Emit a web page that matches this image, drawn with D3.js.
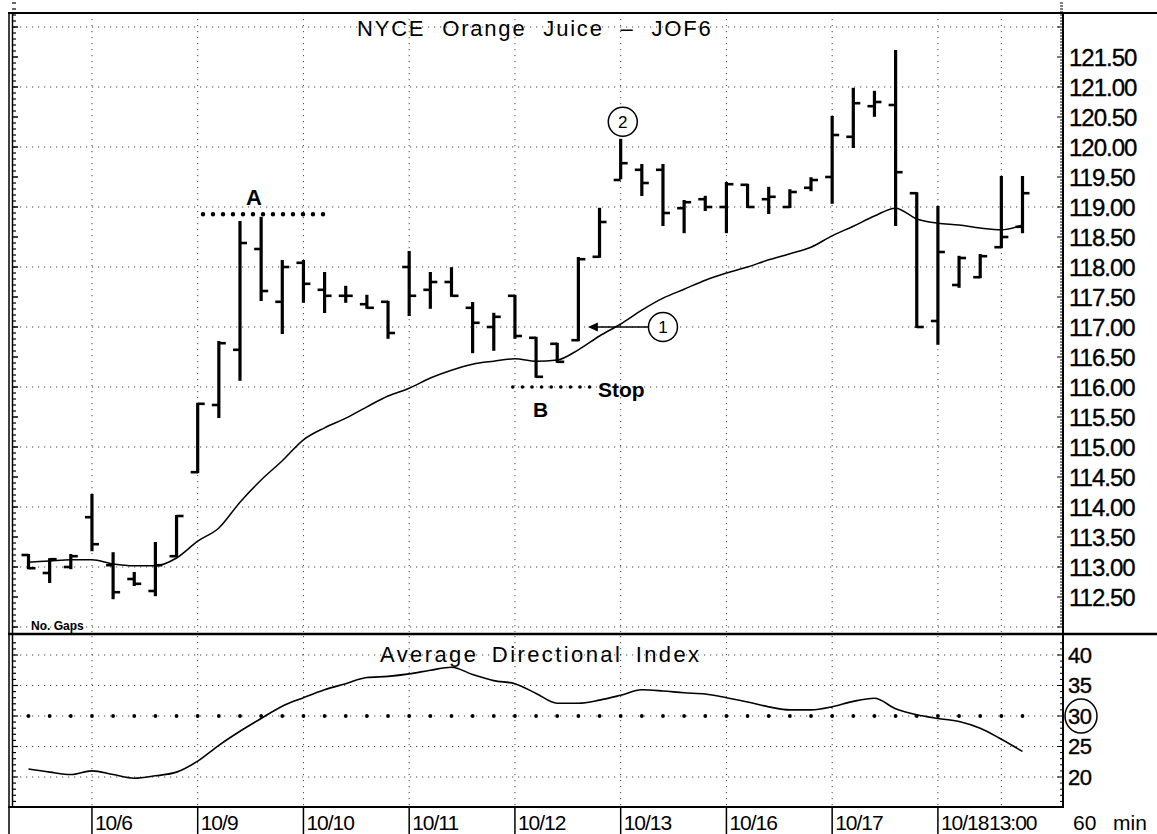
<!DOCTYPE html>
<html>
<head>
<meta charset="utf-8">
<script src="https://cdn.jsdelivr.net/npm/d3@7"></script>
<style>
  body { margin: 0; background: #fff; }
  svg { display: block; font-family: "Liberation Sans", Arial, sans-serif; }
</style>
</head>
<body>
<div id="chart"></div>
<script>
// 60 min bars, last 3 bars of 10/5 then 5 bars a session up to 10/18 13:00
var opens = [113.2, 112.9, 113.0, 113.83, 113.03, 112.8, 112.6, 113.18, 114.58, 115.7,
    116.62, 118.3, 117.42, 118.07, 117.62, 117.52, 117.38, 117.42, 118.0, 117.62,
    117.75, 117.32, 117.0, 117.52, 116.82, 116.72, 116.78, 118.17, 119.45, 119.62,
    119.62, 118.98, 119.13, 119.0, 119.37, 119.13, 119.0, 119.32, 119.5, 120.17,
    120.68, 120.7, 119.23, 117.1, 117.7, 117.83, 118.33, 118.67]
var highs = [113.2, 113.13, 113.2, 114.2, 113.23, 112.9, 113.4, 113.85, 115.72, 116.75,
    118.75, 118.82, 118.1, 118.1, 117.9, 117.67, 117.52, 117.42, 118.25, 117.9,
    117.98, 117.4, 117.22, 117.52, 116.82, 116.72, 118.15, 118.97, 120.12, 119.7,
    119.7, 119.1, 119.17, 119.4, 119.37, 119.32, 119.28, 119.48, 120.5, 120.97,
    120.92, 121.6, 119.23, 119.0, 118.17, 118.2, 119.5, 119.5]
var lows = [112.98, 112.75, 112.98, 113.28, 112.48, 112.7, 112.53, 113.18, 114.58, 115.5,
    116.12, 117.45, 116.9, 117.42, 117.25, 117.42, 117.32, 116.82, 117.2, 117.32,
    117.52, 116.58, 116.62, 116.82, 116.17, 116.42, 116.78, 118.17, 119.48, 119.2,
    118.7, 118.58, 118.95, 118.58, 119.0, 118.9, 119.0, 119.28, 119.07, 120.0,
    120.52, 118.7, 117.0, 116.72, 117.67, 117.83, 118.33, 118.58]
var closes = [112.98, 113.13, 113.18, 113.38, 112.58, 112.72, 113.03, 113.85, 115.72, 116.73,
    118.4, 117.6, 118.0, 117.72, 117.52, 117.52, 117.32, 116.9, 117.52, 117.75,
    117.52, 117.07, 117.17, 116.85, 116.17, 116.42, 118.13, 118.75, 119.73, 119.4,
    118.9, 119.08, 119.0, 119.38, 119.0, 119.17, 119.25, 119.45, 120.2, 120.73,
    120.75, 119.58, 117.0, 118.25, 118.15, 118.18, 118.5, 119.23]

// moving average drawn through the bars
var avgLine = [113.08, 113.1, 113.12, 113.12, 113.05, 113.02, 113.02, 113.15, 113.43, 113.65,
    114.08, 114.45, 114.77, 115.12, 115.32, 115.48, 115.67, 115.85, 115.98, 116.15,
    116.28, 116.38, 116.43, 116.47, 116.43, 116.45, 116.62, 116.85, 117.05, 117.28,
    117.48, 117.63, 117.78, 117.9, 118.0, 118.12, 118.22, 118.33, 118.52, 118.68,
    118.85, 118.98, 118.8, 118.73, 118.7, 118.65, 118.62, 118.7]

// Average Directional Index
var adx = [21.3, 20.8, 20.4, 21.0, 20.4, 19.8, 20.2, 20.8, 22.6, 25.2,
    27.5, 29.6, 31.6, 33.0, 34.3, 35.3, 36.3, 36.5, 36.9, 37.5,
    38.0, 36.8, 35.8, 35.3, 33.7, 32.1, 32.1, 32.6, 33.4, 34.3,
    34.1, 33.8, 33.6, 33.0, 32.3, 31.5, 31.0, 31.0, 31.5, 32.4,
    32.9, 31.2, 30.2, 29.6, 29.1, 28.0, 26.2, 24.2]

var dayLabels = ["10/6", "10/9", "10/10", "10/11", "10/12", "10/13", "10/16", "10/17", "10/18"]
var priceTicks = ["112.50", "113.00", "113.50", "114.00", "114.50", "115.00", "115.50", "116.00",
    "116.50", "117.00", "117.50", "118.00", "118.50", "119.00", "119.50", "120.00", "120.50",
    "121.00", "121.50"]
var adxTicks = [20, 25, 30, 35, 40]

var width = 1157
var height = 834
var barsPerDay = 5
var firstDayBar = 3

var svg = d3.select("#chart")
    .append("svg")
    .attr("width", width)
    .attr("height", height)

var x = d3.scaleLinear().domain([0, closes.length - 1]).range([28.5, 1022.5])
var y = d3.scaleLinear().domain([112, 122]).range([627, 27])
var yAdx = d3.scaleLinear().domain([20, 40]).range([777, 655])

var left = 12, right = 1063
var topPanel = [13, 632]
var lowPanel = [636, 807]

// bar index of each day start, plus the 13:00 bar on 10/18
var gridBars = dayLabels.map(function (d, i) { return firstDayBar + i * barsPerDay })
gridBars.push(gridBars[gridBars.length - 1] + 3)

// grid
var grid = svg.append("g")
    .attr("stroke", "#444")
    .attr("stroke-width", 1)
    .attr("stroke-dasharray", "1.2,4.8")

grid.selectAll(".hTop")
    .data(d3.range(112, 123))
    .enter().append("line")
    .attr("x1", left + 2).attr("x2", right)
    .attr("y1", function (d) { return y(d) }).attr("y2", function (d) { return y(d) })

grid.selectAll(".hLow")
    .data([20, 25, 30, 35, 40])
    .enter().append("line")
    .attr("x1", left + 2).attr("x2", right)
    .attr("y1", function (d) { return yAdx(d) }).attr("y2", function (d) { return yAdx(d) })

gridBars.forEach(function (b) {
    grid.append("line")
        .attr("x1", x(b)).attr("x2", x(b))
        .attr("y1", topPanel[0]).attr("y2", topPanel[1])
    grid.append("line")
        .attr("x1", x(b)).attr("x2", x(b))
        .attr("y1", lowPanel[0]).attr("y2", lowPanel[1])
})

// heavy dots on the 30 line
svg.append("g").selectAll("circle")
    .data(d3.range(closes.length))
    .enter().append("circle")
    .attr("cx", function (i) { return x(i) })
    .attr("cy", yAdx(30))
    .attr("r", 1.9)
    .attr("fill", "#000")

// frame
var frame = svg.append("g").attr("stroke", "#000").attr("fill", "none")
frame.append("line").attr("x1", 8).attr("x2", width).attr("y1", 13).attr("y2", 13).attr("stroke-width", 2)
frame.append("line").attr("x1", 8).attr("x2", width).attr("y1", 634).attr("y2", 634).attr("stroke-width", 2.5)
frame.append("line").attr("x1", 8).attr("x2", right).attr("y1", 807).attr("y2", 807).attr("stroke-width", 2)
frame.append("line").attr("x1", 9).attr("x2", 9).attr("y1", 12).attr("y2", height).attr("stroke-width", 1.5)
frame.append("line").attr("x1", 12.5).attr("x2", 12.5).attr("y1", 13).attr("y2", 807).attr("stroke-width", 1.5)
frame.append("line").attr("x1", right).attr("x2", right).attr("y1", 12).attr("y2", 808).attr("stroke-width", 2)

// axis ticks, dense like the original
var ticks = svg.append("g").attr("stroke", "#000").attr("stroke-width", 1)
d3.range(112, 122.4, 0.05).forEach(function (v) {
    var major = Math.abs(v * 2 - Math.round(v * 2)) < 0.001
    ticks.append("line").attr("x1", right - (major ? 6 : 3)).attr("x2", right)
        .attr("y1", y(v)).attr("y2", y(v))
})
d3.range(112, 122.4, 0.1).forEach(function (v) {
    var major = Math.abs(v * 2 - Math.round(v * 2)) < 0.001
    ticks.append("line").attr("x1", left).attr("x2", left + (major ? 6 : 4))
        .attr("y1", y(v)).attr("y2", y(v)).attr("stroke-width", major ? 1.5 : 1.2)
})
d3.range(16, 43, 1).forEach(function (v) {
    var major = v % 5 === 0
    ticks.append("line").attr("x1", right - (major ? 6 : 3)).attr("x2", right)
        .attr("y1", yAdx(v)).attr("y2", yAdx(v))
    ticks.append("line").attr("x1", left).attr("x2", left + (major ? 6 : 4))
        .attr("y1", yAdx(v)).attr("y2", yAdx(v)).attr("stroke-width", 1.2)
})

// price labels
svg.append("g").selectAll("text")
    .data(priceTicks)
    .enter().append("text")
    .attr("x", 1069)
    .attr("y", function (d) { return y(+d) + 8.6 })
    .attr("font-size", 24)
    .attr("letter-spacing", -1)
    .attr("stroke", "#000").attr("stroke-width", 0.35)
    .text(function (d) { return d })

// adx labels
svg.append("g").selectAll("text")
    .data(adxTicks)
    .enter().append("text")
    .attr("x", 1068)
    .attr("y", function (d) { return yAdx(d) + 7.5 })
    .attr("font-size", 22)
    .attr("letter-spacing", -0.5)
    .attr("stroke", "#000").attr("stroke-width", 0.35)
    .text(function (d) { return d })

svg.append("ellipse")
    .attr("cx", 1081).attr("cy", yAdx(30))
    .attr("rx", 16).attr("ry", 17)
    .attr("fill", "none").attr("stroke", "#000").attr("stroke-width", 1.5)

// date labels under the lower panel
var dates = svg.append("g")
dayLabels.forEach(function (d, i) {
    var bx = x(firstDayBar + i * barsPerDay)
    dates.append("line")
        .attr("x1", bx).attr("x2", bx).attr("y1", 807).attr("y2", height)
        .attr("stroke", "#000").attr("stroke-width", 1.5)
    dates.append("text")
        .attr("x", bx + 3).attr("y", 830)
        .attr("font-size", 21).attr("letter-spacing", -1)
        .text(d)
})
dates.append("text").attr("x", 989).attr("y", 830).attr("font-size", 21).attr("letter-spacing", -1).text("13:00")
dates.append("text").attr("x", 1073).attr("y", 830).attr("font-size", 21).text("60")
dates.append("text").attr("x", 1113).attr("y", 830).attr("font-size", 21).text("min")

// titles
svg.append("text")
    .attr("x", 357).attr("y", 36)
    .attr("font-size", 22).attr("letter-spacing", 1.8).attr("word-spacing", 9)
    .text("NYCE Orange Juice \u2013 JOF6")
svg.append("text")
    .attr("x", 380).attr("y", 662)
    .attr("font-size", 22).attr("letter-spacing", 2.4).attr("word-spacing", 5)
    .text("Average Directional Index")
svg.append("text")
    .attr("x", 31).attr("y", 630)
    .attr("font-size", 12).attr("font-weight", "bold")
    .text("No. Gaps")

// moving average and adx lines
svg.append("path")
    .datum(avgLine)
    .attr("fill", "none").attr("stroke", "#000").attr("stroke-width", 1.5)
    .attr("d", d3.line().x(function (d, i) { return x(i) }).y(function (d) { return y(d) }).curve(d3.curveMonotoneX))

svg.append("path")
    .datum(adx)
    .attr("fill", "none").attr("stroke", "#000").attr("stroke-width", 1.6)
    .attr("d", d3.line().x(function (d, i) { return x(i) }).y(function (d) { return yAdx(d) }).curve(d3.curveMonotoneX))

// OHLC bars
var bars = svg.append("g")
    .attr("stroke", "#000")
    .selectAll("g")
    .data(d3.range(closes.length))
    .enter().append("g")

bars.append("line")
    .attr("x1", function (i) { return x(i) }).attr("x2", function (i) { return x(i) })
    .attr("y1", function (i) { return y(highs[i]) - 1 }).attr("y2", function (i) { return y(lows[i]) + 1 })
    .attr("stroke-width", 3.2)
bars.append("line")
    .attr("x1", function (i) { return x(i) - 7 }).attr("x2", function (i) { return x(i) })
    .attr("y1", function (i) { return y(opens[i]) }).attr("y2", function (i) { return y(opens[i]) })
    .attr("stroke-width", 2.6)
bars.append("line")
    .attr("x1", function (i) { return x(i) }).attr("x2", function (i) { return x(i) + 7 })
    .attr("y1", function (i) { return y(closes[i]) }).attr("y2", function (i) { return y(closes[i]) })
    .attr("stroke-width", 2.6)

// annotations
var notes = svg.append("g")

notes.append("line")
    .attr("x1", x(8.25)).attr("x2", x(14.25))
    .attr("y1", y(118.88)).attr("y2", y(118.88))
    .attr("stroke", "#000").attr("stroke-width", 4.5)
    .attr("stroke-linecap", "round").attr("stroke-dasharray", "0,10")
notes.append("text")
    .attr("x", 246).attr("y", 205)
    .attr("font-size", 22).attr("font-weight", "bold")
    .text("A")

notes.append("line")
    .attr("x1", x(22.9)).attr("x2", x(26.7))
    .attr("y1", y(116)).attr("y2", y(116))
    .attr("stroke", "#000").attr("stroke-width", 3.6)
    .attr("stroke-linecap", "round").attr("stroke-dasharray", "0,9.6")
notes.append("text")
    .attr("x", 598).attr("y", 397)
    .attr("font-size", 21).attr("font-weight", "bold")
    .text("Stop")
notes.append("text")
    .attr("x", 533).attr("y", 417)
    .attr("font-size", 21).attr("font-weight", "bold")
    .text("B")

// circled markers
var c1x = x(30), c1y = y(117)
notes.append("line")
    .attr("x1", c1x - 15).attr("x2", x(26.45) + 8)
    .attr("y1", c1y).attr("y2", c1y)
    .attr("stroke", "#000").attr("stroke-width", 1.6)
notes.append("path")
    .attr("d", "M" + x(26.45) + "," + c1y + "l10,-4.5l0,9z")
    .attr("fill", "#000")

var circled = [{ n: "1", bx: 30, v: 117 }, { n: "2", bx: 28.1, v: 120.42 }]
circled.forEach(function (c) {
    notes.append("circle")
        .attr("cx", x(c.bx)).attr("cy", y(c.v)).attr("r", 14.5)
        .attr("fill", "#fff").attr("stroke", "#000").attr("stroke-width", 1.5)
    notes.append("text")
        .attr("x", x(c.bx)).attr("y", y(c.v) + 6)
        .attr("text-anchor", "middle").attr("font-size", 17)
        .text(c.n)
})
</script>
</body>
</html>
